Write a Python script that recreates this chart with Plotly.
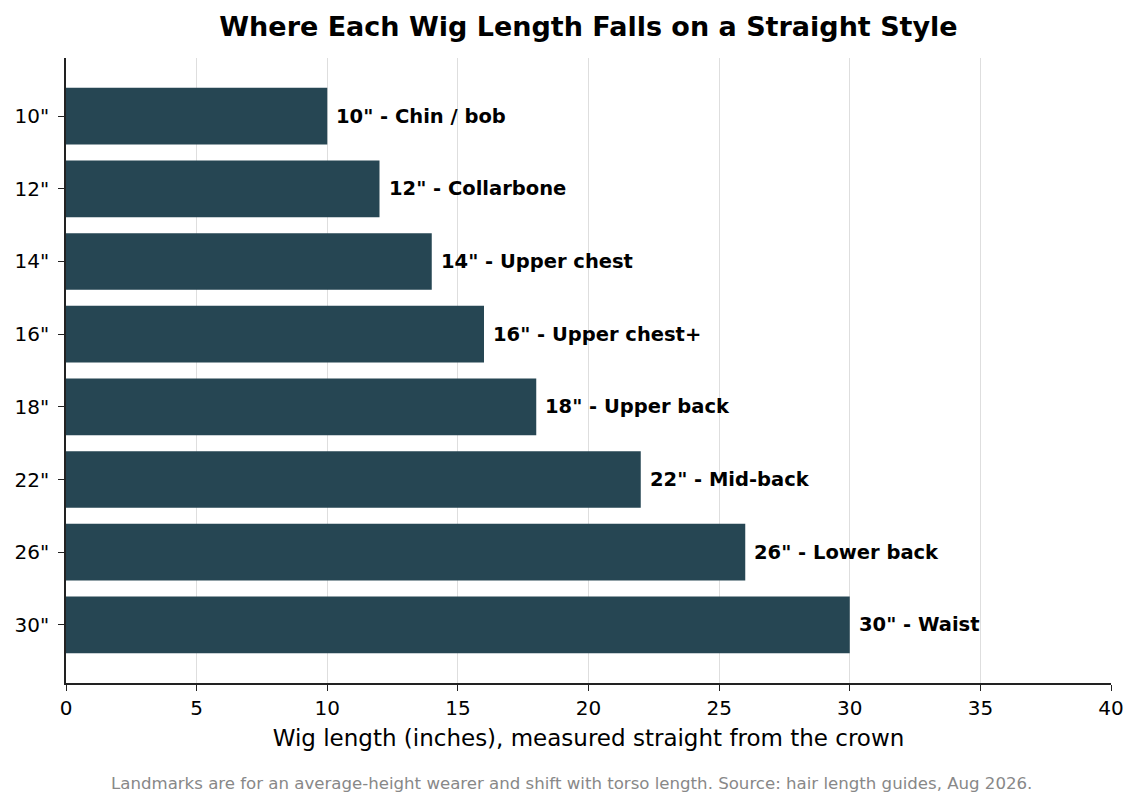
import plotly.graph_objects as go

# wig lengths and where they land on the body
lengths = [10, 12, 14, 16, 18, 22, 26, 30]
length_labels = ['10"', '12"', '14"', '16"', '18"', '22"', '26"', '30"']
landmarks = ["Chin / bob", "Collarbone", "Upper chest", "Upper chest+",
             "Upper back", "Mid-back", "Lower back", "Waist"]
x_ticks = [0, 5, 10, 15, 20, 25, 30, 35, 40]

FONT = "DejaVu Sans"

fig = go.Figure(go.Bar(
    x=lengths,
    y=length_labels,
    orientation="h",
    width=0.78,
    marker_color="#264653",
    marker_line_width=0,
))

# bold labels just right of each bar
for v, lab, name in zip(lengths, length_labels, landmarks):
    fig.add_annotation(
        x=v, y=lab, text=f"<b>{lab} - {name}</b>",
        xanchor="left", xshift=7, showarrow=False,
        font=dict(family=FONT, size=19.5, color="black"),
    )

# footnote, centred on the whole figure
fig.add_annotation(
    x=0.484, y=-0.16, xref="paper", yref="paper",
    text="Landmarks are for an average-height wearer and shift with torso length. "
         "Source: hair length guides, Aug 2026.",
    showarrow=False, xanchor="center", yanchor="middle",
    font=dict(family=FONT, size=16.6, color="#888888"),
)

fig.update_layout(
    width=1140, height=807,
    margin=dict(l=58, r=37, t=50, b=132),
    paper_bgcolor="white", plot_bgcolor="white",
    showlegend=False,
    font=dict(family=FONT, size=19, color="black"),
    title=dict(text="<b>Where Each Wig Length Falls on a Straight Style</b>",
               xref="paper", x=0.5, xanchor="center", y=0.9765, yanchor="middle",
               font=dict(family=FONT, size=27, color="black")),
)

fig.update_xaxes(
    range=[0, 40], tickvals=x_ticks,
    showgrid=True, gridcolor="#dedede", gridwidth=1,
    showline=True, linecolor="#222222", linewidth=1.5,
    ticks="outside", ticklen=6, tickcolor="#222222",
    zeroline=False, automargin=False,
    title=dict(text="Wig length (inches), measured straight from the crown",
               font=dict(family=FONT, size=23), standoff=11),
    tickfont=dict(family=FONT, size=20),
)
fig.update_yaxes(
    categoryorder="array", categoryarray=length_labels,
    range=[7.8, -0.8],
    showgrid=False, automargin=False,
    showline=True, linecolor="#222222", linewidth=1.5,
    ticks="outside", ticklen=6, tickcolor="#222222",
    ticklabelstandoff=5,
    tickfont=dict(family=FONT, size=20),
)

fig.write_html("out.html")
